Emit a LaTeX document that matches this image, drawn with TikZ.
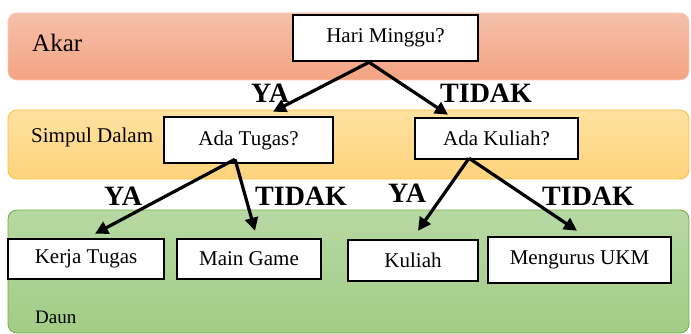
\documentclass[tikz,border=0pt]{standalone}
\usepackage{fontspec}
\setmainfont{Liberation Serif}
\usetikzlibrary{arrows.meta,positioning}

\definecolor{akartop}{RGB}{245,192,170}
\definecolor{akarbot}{RGB}{244,163,130}
\definecolor{akarline}{RGB}{246,200,182}
\definecolor{simpultop}{RGB}{255,226,160}
\definecolor{simpulbot}{RGB}{254,211,124}
\definecolor{simpulline}{RGB}{246,192,64}
\definecolor{dauntop}{RGB}{182,217,162}
\definecolor{daunbot}{RGB}{162,204,134}
\definecolor{daunline}{RGB}{112,173,71}

\begin{document}
\begin{tikzpicture}[
  x=1pt, y=-1pt,
  band/.style={rounded corners=9pt, minimum width=681pt, inner sep=0pt, line width=0.8pt},
  box/.style={draw, line width=2.5pt, fill=white, inner sep=0pt, font=\fontsize{21}{23}\selectfont},
  bandlabel/.style={anchor=base west, inner sep=0pt},
  yesno/.style={anchor=base west, inner sep=0pt, font=\fontsize{28}{30}\selectfont\bfseries},
  arr/.style={-{Triangle[length=13pt,width=13pt]}, line width=3.2pt}
]
\useasboundingbox (0,0) rectangle (691,334);

% the three levels
\node[band, minimum height=67pt, top color=akartop, bottom color=akarbot, draw=akarline] (akar) at (348.5,46.5) {};
\node[band, minimum height=69pt, top color=simpultop, bottom color=simpulbot, draw=simpulline] (simpul) at (348.5,144.5) {};
\node[band, minimum height=123pt, top color=dauntop, bottom color=daunbot, draw=daunline] (daun) at (348.5,271.5) {};

\node[bandlabel, font=\fontsize{25}{27}\selectfont] (lakar) at (32,52) {Akar};
\node[bandlabel, font=\fontsize{21}{23}\selectfont] (lsimpul) at (31,143) {Simpul Dalam};
\node[bandlabel, font=\fontsize{19}{21}\selectfont] (ldaun) at (35,323) {Daun};

% decision nodes
\node[box, minimum width=185pt, minimum height=46pt] (hari) at (385.5,38) {Hari Minggu?};
\node[box, minimum width=169pt, minimum height=46pt] (tugas) at (248.5,140) {Ada Tugas?};
\node[box, minimum width=163pt, minimum height=41pt] (adakuliah) at (496.5,138.5) {Ada Kuliah?};

% leaves
\node[box, minimum width=156pt, minimum height=40pt] (kerja) at (86,259) {Kerja Tugas};
\node[box, minimum width=144pt, minimum height=40pt] (game) at (249,259) {Main Game};
\node[box, minimum width=130pt, minimum height=41pt] (kuliah) at (413,260.5) {Kuliah};
\node[box, minimum width=183pt, minimum height=46pt] (ukm) at (579.5,260) {Mengurus UKM};

\draw[arr] ([xshift=-16.5pt]hari.south) -- ([xshift=24.5pt,yshift=4pt]tugas.north);
\draw[arr] ([xshift=-16.5pt]hari.south) -- ([xshift=-48.5pt,yshift=2pt]adakuliah.north);
\draw[arr] ([xshift=-13.5pt,yshift=5pt]tugas.south) -- ([xshift=9pt,yshift=4pt]kerja.north);
\draw[arr] ([xshift=-13.5pt,yshift=5pt]tugas.south) -- ([xshift=6pt,yshift=7pt]game.north);
\draw[arr] ([xshift=-27.5pt,yshift=2pt]adakuliah.south) -- ([xshift=5pt,yshift=8pt]kuliah.north);
\draw[arr] ([xshift=-27.5pt,yshift=2pt]adakuliah.south) -- ([xshift=-2.5pt,yshift=5pt]ukm.north);

\node[yesno] (ya1) at (251,103) {YA};
\node[yesno] (tidak1) at (440,103) {TIDAK};
\node[yesno] (ya2) at (104,205) {YA};
\node[yesno] (tidak2) at (255,205) {TIDAK};
\node[yesno] (ya3) at (388,202) {YA};
\node[yesno] (tidak3) at (542,205) {TIDAK};

\end{tikzpicture}
\end{document}
